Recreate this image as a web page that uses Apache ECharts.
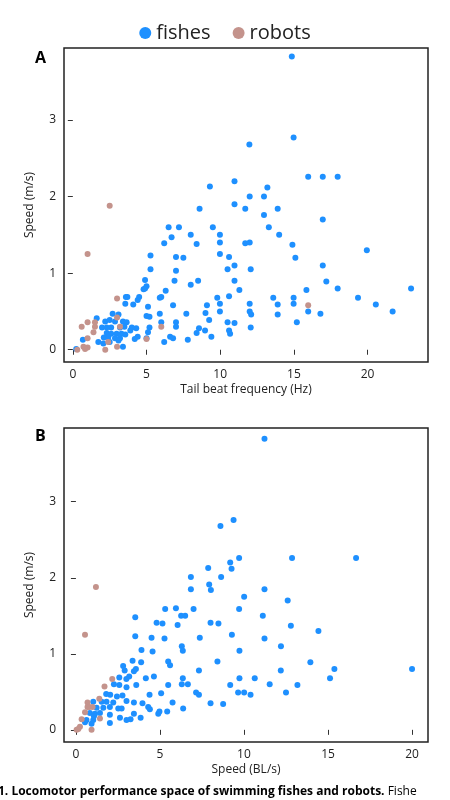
<!DOCTYPE html>
<html><head><meta charset="utf-8">
<script src="https://cdn.jsdelivr.net/npm/echarts@6/dist/echarts.min.js"></script>
<style>html,body{margin:0;padding:0;background:#fff}#c{width:450px;height:800px}</style>
</head><body><div id="c"></div>
<script>
const xTicksA=[0,5,10,15,20], xTicksB=[0,5,10,15,20], yTicks=[0,1,2,3];
const fishA=[[14.86,3.83],[14.98,2.77],[11.98,2.68],[15.97,2.26],[16.96,2.26],[17.97,2.26],[9.3,2.13],[10.97,2.2],[13.2,2.12],[12,2],[12.97,2],[10.97,1.9],[11.7,1.84],[13.9,1.84],[8.6,1.84],[12.97,1.76],[16.96,1.7],[13.3,1.6],[6.5,1.6],[7.2,1.6],[9.5,1.6],[6.7,1.47],[8,1.5],[9.98,1.5],[9.98,1.4],[6.2,1.39],[8.4,1.38],[11.7,1.39],[12,1.4],[14,1.5],[14.9,1.37],[19.95,1.3],[5.27,1.23],[7,1.21],[7.5,1.2],[9.98,1.25],[10.6,1.21],[15.1,1.2],[5.27,1.05],[7,1.03],[10.5,1.05],[10.97,1.1],[12.07,1.05],[16.96,1.1],[4.9,0.91],[5,0.83],[4.9,0.8],[4.8,0.79],[6.9,0.9],[6.3,0.77],[8,0.85],[8.5,0.9],[10.97,0.9],[11.3,0.78],[17.2,0.89],[15.85,0.78],[17.97,0.8],[22.95,0.8],[4.5,0.69],[4.4,0.65],[4.1,0.59],[3.6,0.69],[3.7,0.69],[3.56,0.6],[5.9,0.68],[6,0.69],[9.8,0.68],[10.6,0.7],[13.6,0.68],[14.98,0.68],[19.35,0.68],[6.8,0.58],[5.1,0.56],[9.1,0.58],[9.98,0.6],[12,0.6],[13.9,0.59],[14.98,0.6],[20.56,0.59],[21.7,0.5],[15.97,0.5],[16.8,0.47],[13.9,0.46],[12,0.5],[12.1,0.46],[9.98,0.5],[9,0.48],[7.7,0.47],[5.9,0.47],[5,0.44],[5.2,0.43],[15.2,0.36],[9.25,0.39],[10.5,0.36],[10.97,0.35],[12.07,0.29],[7,0.36],[7,0.3],[6,0.36],[5.2,0.29],[5.1,0.23],[8.56,0.28],[8.4,0.22],[8.97,0.25],[9.4,0.17],[10.6,0.25],[10.67,0.21],[6.6,0.17],[6.8,0.15],[7.8,0.13],[6.2,0.1],[5,0.15],[4.3,0.28],[4.2,0.14],[4.4,0.17],[1.62,0.41],[2.2,0.37],[2.5,0.39],[2.86,0.37],[2.7,0.47],[3.1,0.46],[3.4,0.37],[3.65,0.36],[1.98,0.29],[2.3,0.29],[2.6,0.29],[3.2,0.29],[3.5,0.3],[4,0.29],[2.3,0.22],[2.6,0.21],[2.97,0.21],[3.3,0.21],[2.1,0.16],[2.4,0.16],[2.86,0.15],[3.2,0.15],[1.73,0.1],[2.07,0.08],[2.5,0.1],[3.1,0.12],[3.4,0.04],[0.68,0.13],[0.23,0.01],[3.9,0.25],[3.56,0.2]];
const robotA=[[2.5,1.88],[1,1.25],[3,0.67],[15.97,0.58],[1,0.36],[1.5,0.36],[0.6,0.3],[1.5,0.3],[1.4,0.23],[3,0.42],[3.2,0.3],[6,0.3],[1,0.15],[5,0.14],[2.4,0.1],[3,0.04],[2.2,0],[0.72,0.04],[1,0.03],[0.83,0.01],[0.3,0]];
const fishB=[[11.22,3.83],[9.38,2.76],[8.6,2.68],[9.71,2.26],[12.86,2.26],[16.67,2.26],[9.18,2.2],[9.26,2.12],[7.87,2.13],[6.84,2.01],[8.64,2.01],[7.93,1.91],[8.03,1.84],[6.84,1.85],[10.01,1.75],[11.22,1.85],[12.6,1.7],[5.31,1.59],[5.95,1.6],[7,1.59],[9.71,1.59],[11.12,1.5],[3.53,1.48],[6.26,1.5],[6.5,1.5],[4.8,1.41],[5.15,1.4],[6.05,1.38],[8.01,1.41],[8.48,1.4],[12.79,1.37],[14.43,1.3],[9.28,1.25],[3.53,1.23],[4.5,1.21],[5.27,1.2],[7.37,1.21],[11.22,1.2],[6.3,1.1],[6.36,1.04],[9.73,1.04],[12.2,1.1],[3.9,1.05],[4.56,1.03],[3.37,0.91],[3.88,0.89],[5.49,0.9],[5.6,0.85],[8.42,0.9],[13.95,0.89],[2.81,0.84],[2.9,0.78],[3.57,0.8],[3.45,0.77],[7.32,0.78],[12.19,0.78],[15.38,0.8],[20,0.8],[15.12,0.68],[2.58,0.69],[3.17,0.7],[3,0.67],[4.16,0.68],[4.64,0.7],[6.36,0.68],[9.73,0.68],[10.64,0.68],[2.26,0.6],[2.58,0.59],[3.01,0.56],[3.59,0.59],[5.49,0.59],[6.3,0.6],[6.66,0.6],[9.18,0.59],[11.53,0.6],[13.18,0.59],[1.8,0.47],[2.04,0.46],[2.44,0.44],[2.77,0.45],[4.38,0.46],[5.07,0.48],[7.15,0.49],[7.32,0.46],[9.65,0.49],[10.01,0.49],[10.39,0.46],[12.5,0.49],[1.03,0.37],[1.53,0.37],[1.82,0.37],[2.22,0.36],[3.45,0.36],[3.96,0.35],[5.75,0.36],[8.01,0.35],[8.76,0.34],[1.23,0.29],[1.63,0.29],[2.02,0.3],[2.52,0.28],[2.72,0.28],[3.01,0.38],[4.3,0.3],[4.4,0.27],[6.38,0.28],[0.83,0.22],[1.13,0.21],[1.43,0.22],[2.02,0.2],[2.62,0.16],[3.01,0.13],[3.25,0.14],[3.45,0.21],[3.85,0.16],[4.9,0.21],[4.97,0.24],[5.43,0.24],[0.63,0.13],[1.03,0.13],[0.93,0.08],[2.02,0.09],[0.54,0.1],[1.07,0.18]];
const robotB=[[1.19,1.88],[0.54,1.25],[2.16,0.67],[1.7,0.57],[1.39,0.41],[0.69,0.36],[0.69,0.3],[0.54,0.23],[1.43,0.15],[0.34,0.14],[0.93,0],[0.24,0.04],[0.04,0],[0.14,0.01],[0.99,0.3],[0.8,0.3]];
const FISH='#1e90ff', ROBOT='#c4938c', F='"Open Sans", sans-serif';
function xAx(gi,min,max,ticks,name){return {gridIndex:gi,type:'value',min,max,name,nameLocation:'middle',nameGap:22,
 nameTextStyle:{fontFamily:F,fontSize:12,color:'#222'},axisLine:{show:false},splitLine:{show:false},
 axisTick:{show:true,customValues:ticks,inside:false,length:5,lineStyle:{color:'#333'}},
 axisLabel:{customValues:ticks,fontFamily:F,fontSize:12,color:'#222',margin:7}};}
function yAx(gi,min,max){return {gridIndex:gi,type:'value',min,max,name:'Speed (m/s)',nameLocation:'middle',nameGap:28,
 nameTextStyle:{fontFamily:F,fontSize:12,color:'#222'},axisLine:{show:false},splitLine:{show:false},
 axisTick:{show:true,customValues:yTicks,length:5,lineStyle:{color:'#333'}},
 axisLabel:{customValues:yTicks,fontFamily:F,fontSize:12,color:'#222',margin:8}};}
function sc(name,data,color,xi){return {name,type:'scatter',xAxisIndex:xi,yAxisIndex:xi,data,symbolSize:6,itemStyle:{color,opacity:1},z:name==='robots'?3:2};}
const chart=echarts.init(document.getElementById('c'));
chart.setOption({animation:false,
 legend:{top:18,left:'center',itemGap:22,icon:'circle',itemWidth:12,itemHeight:12,textStyle:{fontFamily:F,fontSize:20,color:'#222'},data:['fishes','robots']},
 grid:[{left:64,top:48,width:364,height:314,show:true,borderColor:'#222',borderWidth:1.5},
       {left:64,top:428,width:364,height:314,show:true,borderColor:'#222',borderWidth:1.5}],
 xAxis:[xAx(0,-0.6,24.1,xTicksA,'Tail beat frequency (Hz)'),xAx(1,-0.71,20.95,xTicksB,'Speed (BL/s)')],
 yAxis:[yAx(0,-0.16,3.94),yAx(1,-0.16,3.97)],
 graphic:[{type:'text',left:35,top:50,style:{text:'A',font:'bold 16px '+F,fill:'#000'}},
  {type:'text',left:35,top:428,style:{text:'B',font:'bold 16px '+F,fill:'#000'}},
  {type:'text',left:-2,top:786,style:{text:'{b|1. Locomotor performance space of swimming fishes and robots.} Fishe',rich:{b:{fontWeight:'bold',fontFamily:F,fontSize:12}},fontFamily:F,fontSize:12,fill:'#000'}}],
 series:[sc('fishes',fishA,FISH,0),sc('robots',robotA,ROBOT,0),sc('fishes',fishB,FISH,1),sc('robots',robotB,ROBOT,1)]
});
</script></body></html>
